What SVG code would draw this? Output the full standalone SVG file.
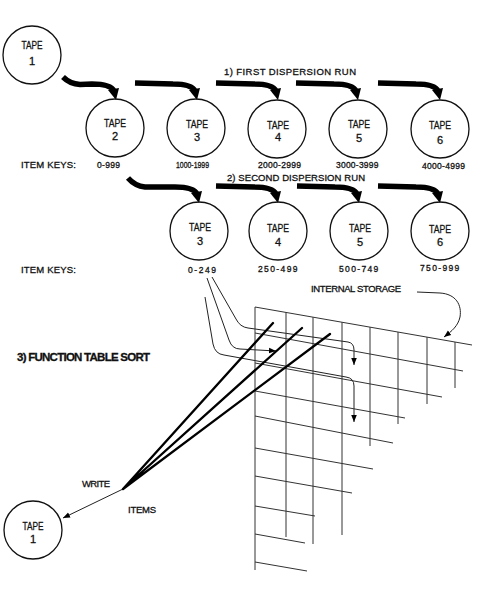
<svg xmlns="http://www.w3.org/2000/svg" xmlns:xlink="http://www.w3.org/1999/xlink" width="482" height="601" viewBox="0 0 482 601">
<style>
text{font-family:"Liberation Sans","DejaVu Sans",sans-serif;fill:#111;stroke:#111;stroke-width:0.3}
.tp{font-size:11px;text-anchor:middle}
.lb{font-size:9.5px}
.ky{font-size:8.5px}
.tape{fill:none;stroke:#111;stroke-width:1.3}
.brush{fill:none;stroke:#000;stroke-width:5.5;stroke-linecap:butt}
.thin{fill:none;stroke:#222;stroke-width:1}
.grid{fill:none;stroke:#333;stroke-width:1}
.thick{fill:none;stroke:#000;stroke-width:2.3;stroke-linecap:round}
</style>
<defs>
<marker id="ah" viewBox="0 0 10 10" refX="10" refY="5" markerWidth="7" markerHeight="7" markerUnits="userSpaceOnUse" orient="auto"><path d="M0,1 L10,5 L0,9 z" fill="#000"/></marker>
<polygon id="head" points="0,1 -8,-9 3,-11" fill="#000"/>
<g id="brush"><path class="brush" d="M-62,-16 L-24,-15 C-11,-15 -4,-12 -2,-8"/><use href="#head"/></g>
<g id="brushA"><path class="brush" d="M-53,-22 Q-46,-15 -36,-14.5 L-24,-15 C-11,-15 -4,-12 -2,-8"/><use href="#head"/></g>
<g id="brushB"><path class="brush" d="M-71,-24 Q-64,-16 -54,-15 L-24,-15 C-11,-15 -4,-12 -2,-8"/><use href="#head"/></g>
</defs>

<g id="connectors">
<use href="#brushA" x="116" y="99"/>
<use href="#brush" x="197" y="99"/>
<use href="#brush" x="278" y="99"/>
<use href="#brush" x="358" y="99"/>
<use href="#brush" x="440" y="99"/>
<use href="#brushB" x="199" y="202"/>
<use href="#brush" x="278" y="202"/>
<use href="#brush" x="359" y="202"/>
<use href="#brush" x="440" y="202"/>
<path class="thin" d="M417,292 L440,293 C456,294 462,305 460,317 C458,326 452,331 444,337" marker-end="url(#ah)"/>
<path class="thin" d="M212,277 L236,319 Q240,327 248,328 L348,342 Q354,343 354,350 L354,365" marker-end="url(#ah)"/>
<path class="thin" d="M207,278 L229,340 Q232,349 240,349 L276,351" marker-end="url(#ah)"/>
<path class="thin" d="M205,297 L213,344 Q215,354 224,355 L346,377 Q354,378 354,386 L354,422" marker-end="url(#ah)"/>
<path class="thin" stroke-width="1.4" d="M123,489 L63,518" marker-end="url(#ah)"/>
</g>

<g id="grid">
<path class="grid" d="M255,307 V570 M286,312.4 V537 M313,317.2 V544 M342,322.2 V535 M370,327.1 V446 M398,332 V424 M427,337.1 V404 M455,342 V388"/>
<path class="grid" d="M255,307 L472,345 M255,333 L463,371 M255,363 L442,397 M255,391 L405,418 M255,416 L393,443 M255,448 L373,469 M255,476 L352,493 M255,506 L315,516 M255,534 L305,543 M255,562 L307,571"/>
</g>

<g id="readlines">
<path class="thick" d="M123,489 L273,323 M123,489 L302,328 M123,489 L330,334"/>
</g>

<g id="tape1-top"><circle class="tape" cx="32" cy="55" r="29"/><text class="tp" x="32" y="49" textLength="21" lengthAdjust="spacingAndGlyphs">TAPE</text><text class="tp" x="32" y="65">1</text></g>
<g id="tape2"><circle class="tape" cx="115" cy="128" r="29"/><text class="tp" x="115" y="127" textLength="22" lengthAdjust="spacingAndGlyphs">TAPE</text><text class="tp" x="115" y="140">2</text></g>
<g id="tape3"><circle class="tape" cx="196" cy="128" r="29"/><text class="tp" x="197" y="128" textLength="22" lengthAdjust="spacingAndGlyphs">TAPE</text><text class="tp" x="197" y="141">3</text></g>
<g id="tape4"><circle class="tape" cx="277" cy="129" r="29"/><text class="tp" x="278" y="129" textLength="22" lengthAdjust="spacingAndGlyphs">TAPE</text><text class="tp" x="278" y="141">4</text></g>
<g id="tape5"><circle class="tape" cx="358" cy="129" r="29"/><text class="tp" x="359" y="128" textLength="22" lengthAdjust="spacingAndGlyphs">TAPE</text><text class="tp" x="359" y="142">5</text></g>
<g id="tape6"><circle class="tape" cx="440" cy="129" r="29"/><text class="tp" x="440" y="129" textLength="22" lengthAdjust="spacingAndGlyphs">TAPE</text><text class="tp" x="440" y="144">6</text></g>

<g id="tape3b"><circle class="tape" cx="199" cy="231" r="29"/><text class="tp" x="200" y="231" textLength="22" lengthAdjust="spacingAndGlyphs">TAPE</text><text class="tp" x="200" y="245">3</text></g>
<g id="tape4b"><circle class="tape" cx="278" cy="231" r="29"/><text class="tp" x="278" y="232" textLength="22" lengthAdjust="spacingAndGlyphs">TAPE</text><text class="tp" x="278" y="246">4</text></g>
<g id="tape5b"><circle class="tape" cx="359" cy="231" r="29"/><text class="tp" x="360" y="232" textLength="22" lengthAdjust="spacingAndGlyphs">TAPE</text><text class="tp" x="360" y="246">5</text></g>
<g id="tape6b"><circle class="tape" cx="440" cy="231" r="29"/><text class="tp" x="440" y="233" textLength="22" lengthAdjust="spacingAndGlyphs">TAPE</text><text class="tp" x="440" y="246">6</text></g>

<g id="tape1-bottom"><circle class="tape" cx="33" cy="530" r="29"/><text class="tp" x="33" y="530" textLength="21" lengthAdjust="spacingAndGlyphs">TAPE</text><text class="tp" x="33" y="543">1</text></g>

<g id="labels">
<text class="lb" x="224" y="75" textLength="132" lengthAdjust="spacing">1) FIRST DISPERSION RUN</text>
<text class="lb" x="227" y="181" textLength="138" lengthAdjust="spacing">2) SECOND DISPERSION RUN</text>
<text class="lb" x="21" y="168" textLength="55" lengthAdjust="spacing">ITEM KEYS:</text>
<text class="lb" x="21" y="273" textLength="55" lengthAdjust="spacing">ITEM KEYS:</text>
<text class="ky" x="97" y="168" textLength="23" lengthAdjust="spacing">0-999</text>
<text class="ky" x="176" y="168" textLength="33" lengthAdjust="spacingAndGlyphs">1000-1999</text>
<text class="ky" x="258" y="167.5" textLength="43" lengthAdjust="spacing">2000-2999</text>
<text class="ky" x="336" y="167.5" textLength="42.5" lengthAdjust="spacing">3000-3999</text>
<text class="ky" x="422" y="168.5" textLength="43" lengthAdjust="spacing">4000-4999</text>
<text class="ky" x="188" y="272.5" textLength="28" lengthAdjust="spacing">0-249</text>
<text class="ky" x="258" y="271.7" textLength="39.5" lengthAdjust="spacing">250-499</text>
<text class="ky" x="339" y="272" textLength="39.3" lengthAdjust="spacing">500-749</text>
<text class="ky" x="420" y="271" textLength="39.3" lengthAdjust="spacing">750-999</text>
<text class="lb" x="311" y="292.3" textLength="90" lengthAdjust="spacing">INTERNAL STORAGE</text>
<text x="17" y="361" font-size="11.5" font-weight="bold" textLength="133" lengthAdjust="spacing">3) FUNCTION TABLE SORT</text>
<text class="lb" x="82" y="486.7" textLength="28" lengthAdjust="spacing">WRITE</text>
<text class="lb" x="128" y="513.3" textLength="28" lengthAdjust="spacing">ITEMS</text>
</g>
</svg>
